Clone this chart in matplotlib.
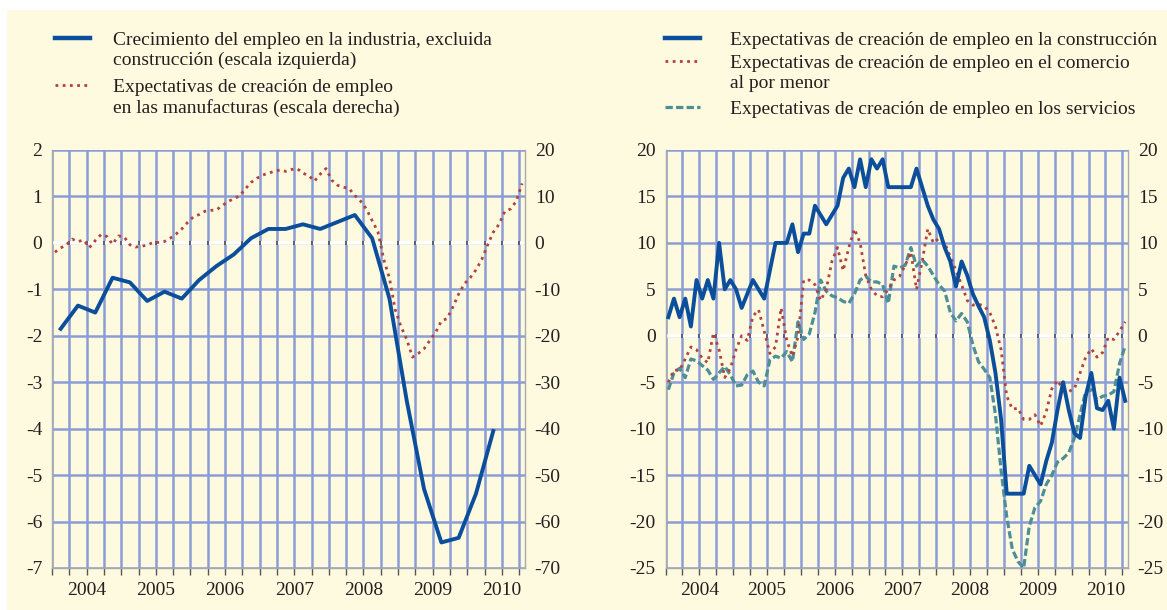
import matplotlib
matplotlib.use('Agg')
import matplotlib.pyplot as plt
import numpy as np
from matplotlib.lines import Line2D

plt.rcParams['font.family'] = ['Liberation Serif', 'DejaVu Serif']
plt.rcParams['axes.unicode_minus'] = False

# ---- data ----
years = ['2004', '2005', '2006', '2007', '2008', '2009', '2010']
n_months = 82  # Jan 2004 .. Oct 2010

# quarterly, 2004Q1 .. 2010Q2, left scale
ind_growth = [-1.85, -1.35, -1.5, -0.75, -0.85, -1.25, -1.05, -1.2, -0.8, -0.5,
              -0.25, 0.1, 0.3, 0.3, 0.4, 0.3, 0.45, 0.6, 0.1, -1.2,
              -3.4, -5.3, -6.45, -6.35, -5.4, -4.05]

# monthly, right scale
manuf_exp = [-2.0, -1.1, -0.4, 0.8, 0.3, 0.6, -1.0, 0.5, 1.8, 1.4,
             -0.3, 1.5, 1.3, -0.4, -0.9, -0.7, -0.5, 0.1, 0.1, 0.3,
             1.0, 1.9, 3.0, 4.4, 5.6, 6.1, 6.8, 7.0, 7.1, 8.0,
             8.9, 9.5, 10.1, 11.6, 13.0, 13.9, 14.6, 15.0, 15.4, 15.7,
             15.4, 15.8, 16.0, 15.0, 14.5, 13.3, 14.8, 16.0, 13.5, 12.4,
             12.0, 11.7, 10.2, 9.0, 7.3, 4.8, 2.4, -3.5, -7.6, -14.4,
             -18.0, -20.8, -24.6, -23.8, -22.8, -21.0, -19.3, -16.8, -16.3, -13.8,
             -11.0, -8.8, -7.5, -5.8, -3.6, -0.5, 2.3, 4.0, 6.8, 7.3,
             9.0, 12.8]

constr_exp = [2, 4, 2, 4, 1, 6, 4, 6, 4, 10,
              5, 6, 5, 3, 4.5, 6, 5, 4, 7, 10,
              10, 10, 12, 9, 11, 11, 14, 13, 12, 13,
              14, 17, 18, 16, 19, 16, 19, 18, 19, 16,
              16, 16, 16, 16, 18, 16, 14, 12.5, 11.5, 9.5,
              8, 5.3, 8, 6.5, 4.5, 3.2, 2, -0.5, -4, -9,
              -17, -17, -17, -17, -14, -15, -16, -13.5, -11.5, -8,
              -5, -8, -10.5, -11, -6.5, -4, -7.8, -8, -7, -10,
              -4.5, -7]

retail_exp = [-5, -3.7, -3.7, -2.5, -1.2, -1.5, -2.4, -2.9, 0.3, -1.5,
              -4.5, -3.5, -1.5, 0, -0.5, 2.1, 2.8, 0.5, -1.9, -1.2,
              3.0, -0.5, -2.2, -0.1, 6, 6, 5.5, 3.8, 5, 8,
              9.5, 7, 9.5, 11.5, 10, 6.5, 5, 4.3, 4.2, 5,
              6, 6.4, 7.6, 9, 5, 8, 11.5, 10, 10.5, 10,
              8.5, 7, 5.5, 3.8, 3.3, 3.4, 3.2, 2.5, 1.0, -1.5,
              -6.5, -7.9, -7.8, -9, -9, -8.5, -9.7, -8.2, -5.7, -4.8,
              -5.8, -6, -5.7, -4, -2.3, -1.4, -2.3, -1.8, -0.2, -0.4,
              0.5, 1.5]

serv_exp = [-5.8, -4, -3.5, -4.5, -2.5, -2.7, -3.2, -3.7, -4.7, -4,
            -3.3, -4.2, -5.4, -5.3, -4.2, -3.8, -5, -5.4, -2.6, -2.2,
            -2.4, -1.7, -2.8, 1.5, -0.4, 0.2, 2.5, 6, 4.8, 4.3,
            4.1, 3.7, 3.5, 4.5, 6, 6.4, 5.8, 5.8, 5.5, 3.5,
            7.5, 7.3, 7.6, 9.5, 7.5, 8.2, 7.5, 6.5, 5.5, 4.8,
            2.5, 1.6, 2.4, 1.5, -1, -2.8, -3.6, -4.5, -8.5, -14.5,
            -19.5, -23, -24.3, -25, -20.5, -18.5, -17.8, -16, -15, -13.6,
            -13.2, -12.6, -11, -8.5, -6, -5.8, -6.9, -6.5, -6.4, -6,
            -3, -1.1]

left_labels = ['Crecimiento del empleo en la industria, excluida\nconstrucción (escala izquierda)',
               'Expectativas de creación de empleo\nen las manufacturas (escala derecha)']
right_labels = ['Expectativas de creación de empleo en la construcción',
                'Expectativas de creación de empleo en el comercio\nal por menor',
                'Expectativas de creación de empleo en los servicios']

BG = '#fefadf'
GRID = '#8b9dd7'
BLUE = '#0b4f9c'
RED = '#b3423d'
TEAL = '#4d8e98'
TXT = '#231f20'
FS = 14

W, H = 1167, 610
months = np.arange(n_months) + 0.5
quarters = np.arange(len(ind_growth)) * 3 + 1.5
qlines = np.arange(3, n_months, 3)


def fx(px):
    return px / W


def fy(py):
    return 1 - py / H


def setup(ax, lo, hi, step):
    ax.set_facecolor(BG)
    ax.set_xlim(0, n_months)
    ax.set_ylim(lo, hi)
    ax.set_yticks(np.arange(lo, hi + step / 2, step))
    ax.xaxis.remove_overlapping_locs = False
    ax.set_xticks(np.arange(0, n_months, 3))
    ax.set_xticks(np.arange(6, n_months, 12), minor=True)
    ax.set_xticklabels([])
    ax.set_xticklabels(years, minor=True)
    ax.tick_params(axis='x', which='major', length=5, width=1, color='#555555', direction='out')
    ax.tick_params(axis='x', which='minor', length=0, pad=10, labelsize=FS, labelcolor=TXT)
    ax.tick_params(axis='y', length=0, pad=7, labelsize=FS, labelcolor=TXT)
    ax.grid(True, which='major', color=GRID, lw=1.8)
    ax.set_axisbelow(True)
    ax.spines['top'].set_visible(False)
    for s in ['left', 'right', 'bottom']:
        ax.spines[s].set_color('#aaaaaa')
        ax.spines[s].set_linewidth(1.0)
    ax.axhline(0, color='white', lw=2.6, zorder=1.5)
    ax.plot(qlines, np.zeros(len(qlines)), ls='none', marker='|', ms=2.5, mew=1.2,
            color='#444444', zorder=1.6)


fig = plt.figure(figsize=(W / 100, H / 100), dpi=100)
fig.patch.set_facecolor('white')
fig.add_artist(plt.Rectangle((fx(7), 0), 1 - fx(7), fy(10), transform=fig.transFigure,
                             facecolor=BG, edgecolor='none', zorder=-10))

# ---- left panel ----
axl = fig.add_axes([fx(52), fy(568), fx(525 - 52), (568 - 150) / H])
setup(axl, -7, 2, 1)
axl.plot(quarters, ind_growth, color=BLUE, lw=2.8, solid_joinstyle='round', zorder=3)
axl2 = axl.twinx()
axl2.set_ylim(-70, 20)
axl2.set_yticks(np.arange(-70, 21, 10))
axl2.tick_params(axis='y', length=0, pad=7, labelsize=FS, labelcolor=TXT)
for s in axl2.spines.values():
    s.set_visible(False)
axl2.plot(months, manuf_exp, color=RED, lw=2.0, ls=(0, (1, 1.6)), zorder=3)

# ---- right panel ----
axr = fig.add_axes([fx(665.5), fy(568), fx(1128 - 665.5), (568 - 150) / H])
setup(axr, -25, 20, 5)
axr.tick_params(axis='y', labelright=True, length=0)
axr.plot(months, serv_exp, color=TEAL, lw=2.3, ls=(0, (2.3, 1.0)), zorder=3)
axr.plot(months, retail_exp, color=RED, lw=2.0, ls=(0, (1, 1.6)), zorder=3)
axr.plot(months, constr_exp, color=BLUE, lw=2.8, solid_joinstyle='round', zorder=4)


# ---- legends ----
def place(x0, x1, xt, y, text, **kw):
    fig.add_artist(Line2D([fx(x0), fx(x1)], [fy(y), fy(y)], transform=fig.transFigure, **kw))
    fig.text(fx(xt), fy(y - 6), text, ha='left', va='top', fontsize=FS, color=TXT,
             linespacing=1.22)


place(55, 90, 113, 38, left_labels[0], color=BLUE, lw=3.2)
place(55, 90, 113, 85, left_labels[1], color=RED, lw=2.0, ls=(0, (1, 1.6)))
place(665, 700, 730, 38, right_labels[0], color=BLUE, lw=3.2)
place(665, 700, 730, 61, right_labels[1], color=RED, lw=2.0, ls=(0, (1, 1.6)))
place(665, 700, 730, 107, right_labels[2], color=TEAL, lw=2.3, ls=(0, (2.3, 1.0)))

fig.savefig('out.png', dpi=100, facecolor=fig.get_facecolor())
